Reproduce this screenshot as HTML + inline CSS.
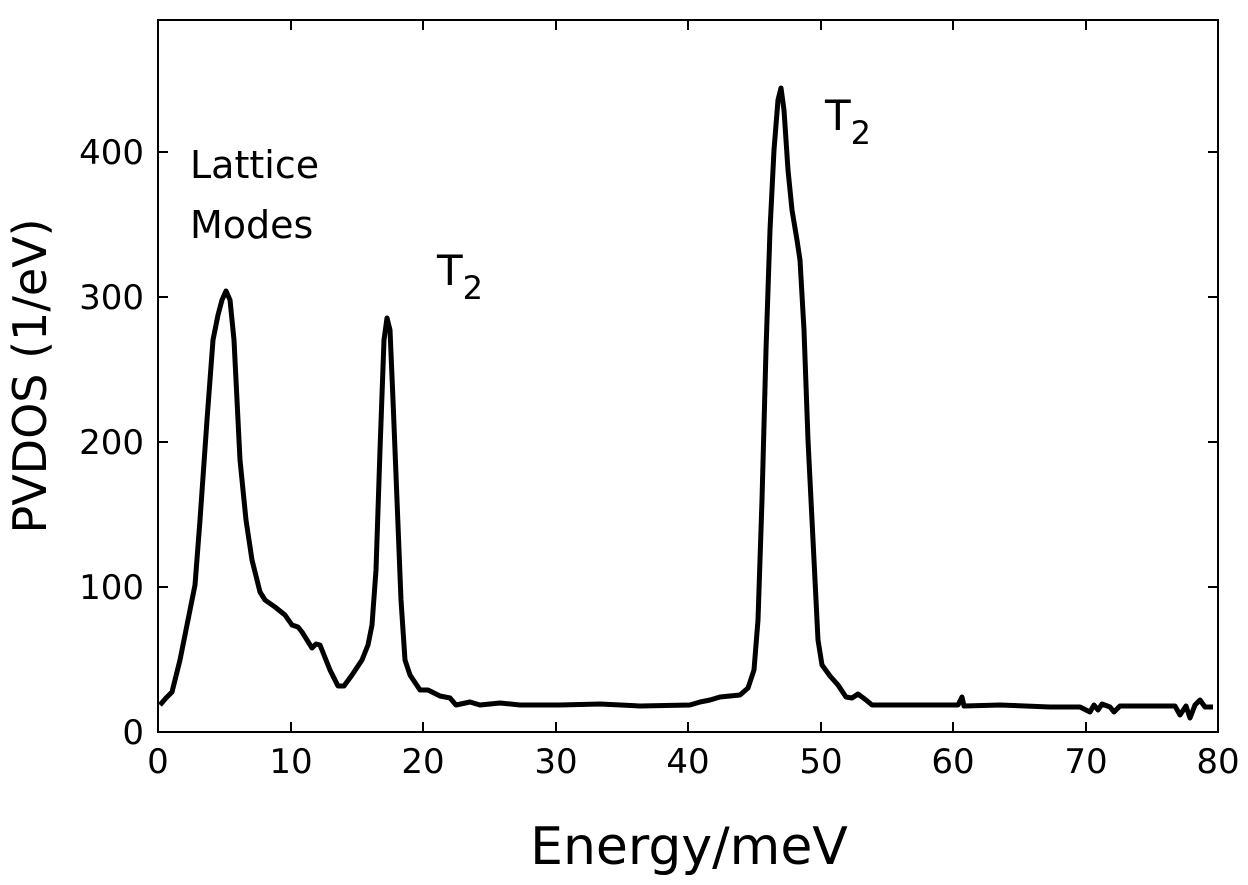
<!DOCTYPE html>
<html><head><style>body{margin:0;background:#fff}</style></head><body>
<svg width="1248" height="880" xmlns="http://www.w3.org/2000/svg" font-family="DejaVu Sans, Liberation Sans, sans-serif">
<rect width="1248" height="880" fill="#fff"/>
<rect x="158" y="20" width="1060" height="712" fill="none" stroke="#000" stroke-width="2"/>
<g stroke="#000" stroke-width="2">
<line x1="291" y1="732" x2="291" y2="722"/><line x1="423" y1="732" x2="423" y2="722"/><line x1="556" y1="732" x2="556" y2="722"/><line x1="688" y1="732" x2="688" y2="722"/><line x1="821" y1="732" x2="821" y2="722"/><line x1="953" y1="732" x2="953" y2="722"/><line x1="1086" y1="732" x2="1086" y2="722"/>
<line x1="291" y1="20" x2="291" y2="30"/><line x1="423" y1="20" x2="423" y2="30"/><line x1="556" y1="20" x2="556" y2="30"/><line x1="688" y1="20" x2="688" y2="30"/><line x1="821" y1="20" x2="821" y2="30"/><line x1="953" y1="20" x2="953" y2="30"/><line x1="1086" y1="20" x2="1086" y2="30"/>
<line x1="158" y1="587" x2="168" y2="587"/><line x1="158" y1="442" x2="168" y2="442"/><line x1="158" y1="297" x2="168" y2="297"/><line x1="158" y1="152" x2="168" y2="152"/>
<line x1="1218" y1="587" x2="1208" y2="587"/><line x1="1218" y1="442" x2="1208" y2="442"/><line x1="1218" y1="297" x2="1208" y2="297"/><line x1="1218" y1="152" x2="1208" y2="152"/>
</g>
<g font-size="34" text-anchor="end">
<text x="144" y="744">0</text><text x="144" y="599">100</text><text x="144" y="454">200</text><text x="144" y="309">300</text><text x="144" y="164">400</text>
</g>
<g font-size="34" text-anchor="middle">
<text x="158" y="773">0</text><text x="291" y="773">10</text><text x="423" y="773">20</text><text x="556" y="773">30</text><text x="688" y="773">40</text><text x="821" y="773">50</text><text x="953" y="773">60</text><text x="1086" y="773">70</text><text x="1218" y="773">80</text>
</g>
<text x="689" y="864" font-size="52" text-anchor="middle">Energy/meV</text>
<text transform="translate(46,376) rotate(-90)" font-size="46" text-anchor="middle">PVDOS (1/eV)</text>
<text x="190" y="178" font-size="38">Lattice</text>
<text x="190" y="238" font-size="38">Modes</text>
<text x="437" y="285" font-size="42">T<tspan font-size="32" dy="14">2</tspan></text>
<text x="825" y="130" font-size="42">T<tspan font-size="32" dy="14">2</tspan></text>
<polyline fill="none" stroke="#000" stroke-width="5" stroke-linejoin="round" points="160,705 166,698 172,692 180,660 190,610 195,585 200,520 207,420 213,340 218,315 222,300 226,291 230,300 234,340 240,460 246,520 252,560 260,592 265,600 275,607 285,615 292,625 298,627 302,632 312,648 316,644 320,645 330,670 338,686 344,686 352,675 362,660 368,645 372,625 376,570 380,450 384,340 387,318 390,330 393,400 397,500 401,600 405,660 410,675 420,690 428,690 440,696 450,698 456,705 470,702 480,705 500,703 520,705 560,705 600,704 640,706 690,705 700,702 710,700 720,697 740,695 748,688 754,670 758,620 762,500 766,350 770,230 774,150 778,100 781,88 784,110 788,170 792,210 797,240 800,260 804,330 808,440 813,540 818,640 822,665 830,676 838,685 846,697 852,698 858,694 866,700 872,705 900,705 958,705 962,697 964,706 1000,705 1050,707 1080,707 1090,712 1094,705 1098,710 1102,704 1110,707 1114,712 1120,706 1175,706 1180,715 1186,706 1190,718 1195,705 1200,700 1205,707 1213,707"/>
</svg>
</body></html>
